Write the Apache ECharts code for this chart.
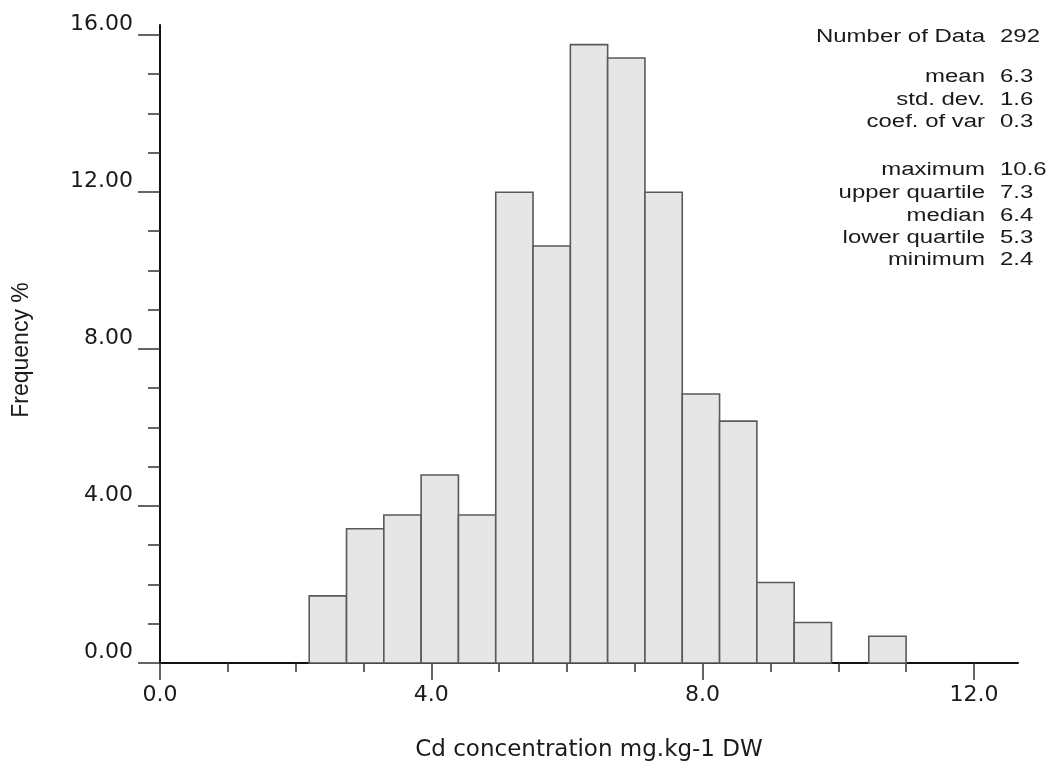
<!DOCTYPE html>
<html>
<head>
<meta charset="utf-8">
<script src="https://cdn.jsdelivr.net/npm/echarts@6/dist/echarts.min.js"></script>
<style>
html,body{margin:0;padding:0;background:#fff;}
#chart{width:1056px;height:764px;}
</style>
</head>
<body>
<div id="chart"></div>
<script>
// Histogram bin edges (mg.kg-1 DW)
var binEdges = [2.2, 2.75, 3.3, 3.85, 4.4, 4.95, 5.5, 6.05, 6.6, 7.15, 7.7, 8.25, 8.8, 9.35, 9.9, 10.45, 11.0];
// Frequency % per bin
var frequency = [1.71, 3.42, 3.77, 4.79, 3.77, 11.99, 10.62, 15.75, 15.41, 11.99, 6.85, 6.16, 2.05, 1.03, 0, 0.68];
// Axis ticks
var xMajorTicks = [0, 4, 8, 12];
var xMinorTicks = [1, 2, 3, 5, 6, 7, 9, 10, 11];
var yMajorTicks = [0, 4, 8, 12, 16];
var yMinorTicks = [1, 2, 3, 5, 6, 7, 9, 10, 11, 13, 14, 15];
// Summary statistics
var statLabels = ["Number of Data", "mean", "std. dev.", "coef. of var", "maximum", "upper quartile", "median", "lower quartile", "minimum"];
var statValues = ["292", "6.3", "1.6", "0.3", "10.6", "7.3", "6.4", "5.3", "2.4"];
var statRows = [37, 77, 100, 122, 170, 193, 216, 238, 260];

var SANS = "'Liberation Sans', Arial, sans-serif";
var WIDE = "'DejaVu Sans', sans-serif";
var TXT = '#1a1a1a';

var histData = [];
for (var i = 0; i < frequency.length; i++) {
  histData.push([binEdges[i], binEdges[i + 1], frequency[i]]);
}

var graphics = [];
for (var k = 0; k < statLabels.length; k++) {
  graphics.push({
    type: 'text', x: 985, y: statRows[k], scaleX: 1.33,
    style: { text: statLabels[k], font: '18px ' + SANS, fill: TXT, align: 'right', verticalAlign: 'middle' }
  });
  graphics.push({
    type: 'text', x: 1000, y: statRows[k], scaleX: 1.33,
    style: { text: statValues[k], font: '18px ' + SANS, fill: TXT, align: 'left', verticalAlign: 'middle' }
  });
}

var chart = echarts.init(document.getElementById('chart'));
chart.setOption({
  backgroundColor: '#fff',
  animation: false,
  grid: { left: 160, right: 38, top: 25, bottom: 101, containLabel: false, outerBoundsMode: 'none' },
  xAxis: [{
    type: 'value', min: 0, max: 12.65, interval: 4,
    name: 'Cd concentration mg.kg-1 DW', nameLocation: 'middle', nameGap: 76,
    nameTextStyle: { fontFamily: WIDE, fontSize: 23, color: TXT },
    axisLine: { show: true, onZero: false, lineStyle: { color: '#111', width: 2 } },
    axisTick: { show: true, length: 17, customValues: xMajorTicks, lineStyle: { color: '#333', width: 1.5 } },
    axisLabel: { customValues: xMajorTicks, margin: 21, fontFamily: WIDE, fontSize: 22, color: TXT,
      formatter: function (v) { return v.toFixed(1); } },
    splitLine: { show: false }
  }, {
    type: 'value', min: 0, max: 12.65, interval: 1, position: 'bottom',
    axisLine: { show: false },
    axisTick: { show: true, length: 9, customValues: xMinorTicks, lineStyle: { color: '#333', width: 1.5 } },
    axisLabel: { show: false },
    splitLine: { show: false }
  }],
  yAxis: [{
    type: 'value', min: 0, max: 16.25, interval: 4,
    name: 'Frequency %', nameLocation: 'middle', nameGap: 127,
    nameTextStyle: { fontFamily: SANS, fontSize: 23, color: TXT, padding: [0, 12, 0, 0] },
    axisLine: { show: true, onZero: false, lineStyle: { color: '#111', width: 2 } },
    axisTick: { show: true, length: 22, customValues: yMajorTicks, lineStyle: { color: '#333', width: 1.5 } },
    axisLabel: { customValues: yMajorTicks, margin: 27, fontFamily: WIDE, fontSize: 22, color: TXT,
      verticalAlign: 'bottom', lineHeight: 22,
      formatter: function (v) { return v.toFixed(2); } },
    splitLine: { show: false }
  }, {
    type: 'value', min: 0, max: 16.25, interval: 1, position: 'left',
    axisLine: { show: false },
    axisTick: { show: true, length: 12, customValues: yMinorTicks, lineStyle: { color: '#333', width: 1.5 } },
    axisLabel: { show: false },
    splitLine: { show: false }
  }],
  graphic: graphics,
  series: [{
    type: 'custom',
    xAxisIndex: 0, yAxisIndex: 0,
    data: histData,
    encode: { x: [0, 1], y: 2 },
    renderItem: function (params, api) {
      var v = api.value(2);
      if (!(v > 0)) return null;
      var p0 = api.coord([api.value(0), 0]);
      var p1 = api.coord([api.value(1), v]);
      return {
        type: 'rect',
        shape: { x: p0[0], y: p1[1], width: p1[0] - p0[0], height: p0[1] - p1[1] },
        style: { fill: '#e6e6e6', stroke: '#5a5a5a', lineWidth: 1.6 }
      };
    }
  }]
});
</script>
</body>
</html>
